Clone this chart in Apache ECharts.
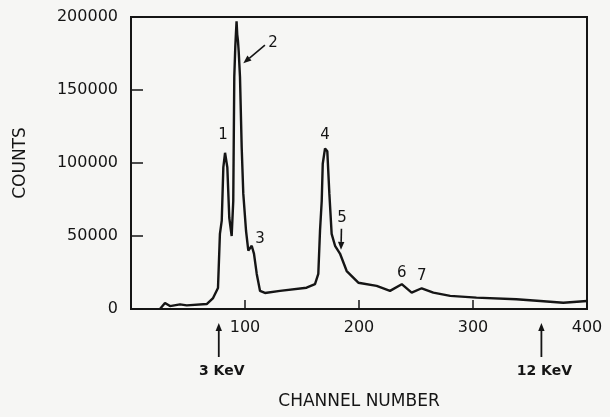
<!DOCTYPE html>
<html>
<head>
<meta charset="utf-8">
<script src="https://cdn.jsdelivr.net/npm/echarts@6/dist/echarts.min.js"></script>
<style>
html,body{margin:0;padding:0;background:#f6f6f4;}
#c{width:610px;height:417px;}
</style>
</head>
<body>
<div id="c"></div>
<script>
// ---- data ----
var channels = [25.4,29.8,34.2,43,48.9,66.4,72,76.3,78,79.6,81,82.5,84.5,86.2,88.3,89.7,90.6,91.5,92,92.6,93.2,93.8,94.5,95.6,97.1,98.5,100.9,102.9,105.9,107.9,110.3,113.2,117.5,130.7,154,161.4,164.3,165.8,167.3,168.2,170.2,172.2,174,176,179,183.3,189.2,199.4,215.5,227.2,237.5,246.2,255,265.2,280,303,338,359,379.2,400];
var counts   = [0,4100,2000,3200,2500,3400,7500,14400,51500,60500,97000,107000,97000,62500,50000,74000,159000,180000,188000,197000,188000,184000,176000,159000,110600,79000,53600,40000,43300,37800,24000,12400,11000,12400,14600,17000,24000,53600,74000,99500,110000,108000,79000,51500,43300,38000,26000,18000,15800,12400,17000,11200,14200,11200,9000,7800,6700,5500,4300,5500];

var xTicks = [0,100,200,300,400];
var yTicks = [0,50000,100000,150000,200000];

var peakNames = ['1','2','3','4','5','6','7'];
var peakLabelX = [80.7,124.6,113.2,170.2,185,237.5,255];
var peakLabelY = [118900,182000,48100,118900,62500,24700,22700];

// arrows pointing at peaks 2 and 5: [x, counts]
var peakArrowFrom = [[117.5,180700],[184.6,55000]];
var peakArrowTo   = [[98.5,168400],[184.2,40500]];

var energyChannels = [77,360];
var energyLabels = ['3 KeV','12 KeV'];

var FONT = 'DejaVu Sans';
var INK = '#151515';

var chart = echarts.init(document.getElementById('c'), null, {renderer:'canvas'});
var seriesData = channels.map(function(c,i){return [c,counts[i]];});
var labelData = peakNames.map(function(n,i){return [peakLabelX[i],peakLabelY[i],n];});

chart.setOption({
  backgroundColor:'#f6f6f4',
  animation:false,
  grid:{left:131,right:23,top:17,bottom:108,show:true,borderColor:INK,borderWidth:2,backgroundColor:'transparent'},
  xAxis:{
    type:'value',min:xTicks[0],max:xTicks[xTicks.length-1],interval:100,
    name:'CHANNEL NUMBER',nameLocation:'middle',nameGap:84,
    nameTextStyle:{fontFamily:FONT,fontSize:17,color:INK},
    axisLine:{show:true,lineStyle:{color:INK,width:2}},
    axisTick:{show:true,inside:true,length:9,lineStyle:{color:INK,width:1.5}},
    axisLabel:{fontFamily:FONT,fontSize:16,color:INK,margin:11,formatter:function(v){return v===0?'':String(v);}},
    splitLine:{show:false}
  },
  yAxis:{
    type:'value',min:yTicks[0],max:yTicks[yTicks.length-1],interval:50000,
    name:'COUNTS',nameLocation:'middle',nameGap:102,nameRotate:90,
    nameTextStyle:{fontFamily:FONT,fontSize:17,color:INK},
    axisLine:{show:true,lineStyle:{color:INK,width:2}},
    axisTick:{show:true,inside:true,length:12,lineStyle:{color:INK,width:1.5}},
    axisLabel:{fontFamily:FONT,fontSize:16,color:INK,margin:13,formatter:function(v){return String(v);}},
    splitLine:{show:false}
  },
  series:[
    {type:'line',data:seriesData,symbol:'none',smooth:false,clip:false,
     lineStyle:{color:INK,width:2.4},z:3},
    {type:'scatter',data:labelData,symbolSize:0,clip:false,silent:true,
     itemStyle:{color:INK,opacity:1},
     label:{show:true,position:'inside',fontFamily:FONT,fontSize:15,color:INK,opacity:1,
       formatter:function(p){return p.value[2];}}}
  ]
});

function arrow(p1,p2,w){
  var dx=p2[0]-p1[0], dy=p2[1]-p1[1], L=Math.sqrt(dx*dx+dy*dy);
  var ux=dx/L, uy=dy/L, hl=8, hw=3.2;
  var bx=p2[0]-ux*hl, by=p2[1]-uy*hl;
  return [
    {type:'line',shape:{x1:p1[0],y1:p1[1],x2:bx,y2:by},style:{stroke:INK,lineWidth:w},z:10},
    {type:'polygon',shape:{points:[[p2[0],p2[1]],[bx-uy*hw,by+ux*hw],[bx+uy*hw,by-ux*hw]]},style:{fill:INK},z:10}
  ];
}

var g=[];
peakArrowFrom.forEach(function(f,i){
  var a=chart.convertToPixel({gridIndex:0},f);
  var b=chart.convertToPixel({gridIndex:0},peakArrowTo[i]);
  g=g.concat(arrow(a,b,1.6));
});
var axisY = chart.convertToPixel({gridIndex:0},[0,0])[1];
energyChannels.forEach(function(c,i){
  var x=chart.convertToPixel({gridIndex:0},[c,0])[0];
  g=g.concat(arrow([x,axisY+48],[x,axisY+14],1.8));
  g.push({type:'text',x:x+3,y:axisY+62,style:{text:energyLabels[i],fontFamily:FONT,fontSize:14,fontWeight:'bold',fill:INK,align:'center',verticalAlign:'middle'},z:10});
});
chart.setOption({graphic:g});
</script>
</body>
</html>
